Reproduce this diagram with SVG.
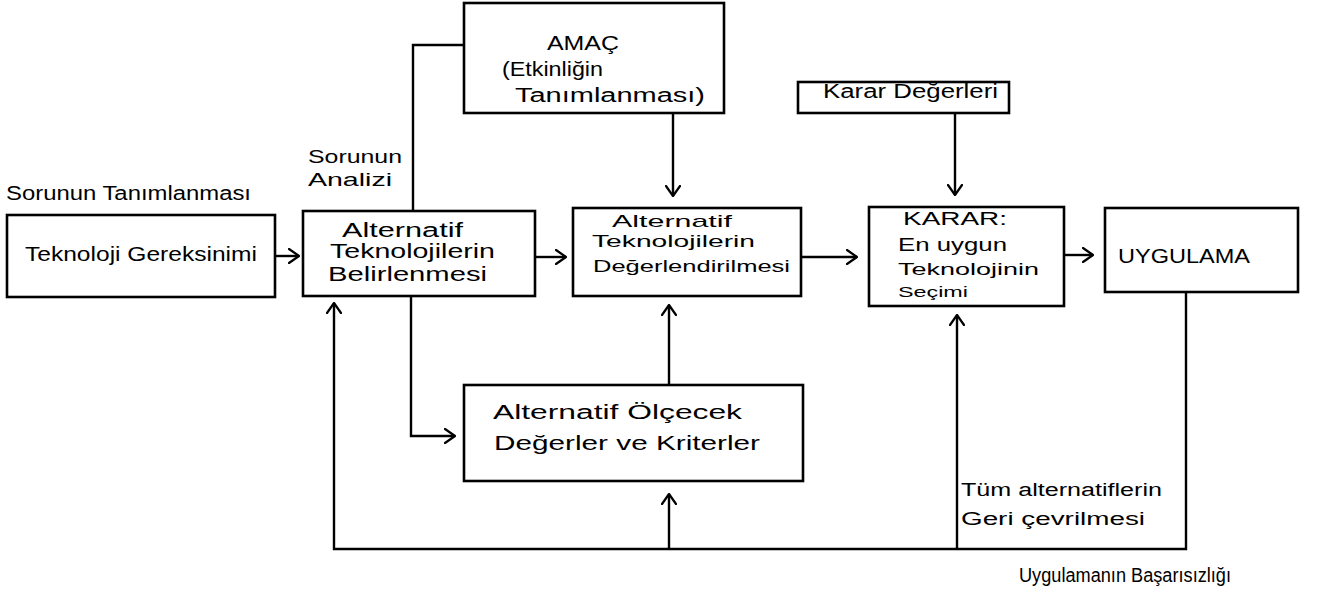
<svg xmlns="http://www.w3.org/2000/svg" width="1317" height="602" viewBox="0 0 1317 602">
<defs>
<marker id="arr" viewBox="0 0 12 16" refX="11" refY="8" markerWidth="12" markerHeight="16" markerUnits="userSpaceOnUse" orient="auto">
<path d="M1,1 L11,8 L1,15" fill="none" stroke="#000" stroke-width="2.2" stroke-linecap="round" stroke-linejoin="round"/>
</marker>
<style>
.box{fill:#fff;stroke:#000;stroke-width:2.6}
.ln{fill:none;stroke:#000;stroke-width:2.4;stroke-linejoin:miter}
.t{font-family:"Liberation Sans","DejaVu Sans",sans-serif;font-size:20px;fill:#000}
.s{font-size:17px}
.m{font-size:18px}
.xs{font-size:15px}
</style>
</defs>
<rect width="1317" height="602" fill="#fff"/>
<g id="connectors">
<path class="ln" d="M275,256 H299" marker-end="url(#arr)"/>
<path class="ln" d="M535,257 H566" marker-end="url(#arr)"/>
<path class="ln" d="M801,257 H857" marker-end="url(#arr)"/>
<path class="ln" d="M1064,255 H1093" marker-end="url(#arr)"/>
<path class="ln" d="M673,113 V196" marker-end="url(#arr)"/>
<path class="ln" d="M955,113 V195" marker-end="url(#arr)"/>
<path class="ln" d="M413,210 V45 H463"/>
<path class="ln" d="M411,295 V436 H455" marker-end="url(#arr)"/>
<path class="ln" d="M669,385 V305" marker-end="url(#arr)"/>
<path class="ln" d="M1186,292 V549 H334 V303" marker-end="url(#arr)"/>
<path class="ln" d="M669,549 V494" marker-end="url(#arr)"/>
<path class="ln" d="M957,549 V315" marker-end="url(#arr)"/>
</g>
<g id="label-sorunun-tanimlanmasi"><text class="t" x="6" y="200" textLength="245" lengthAdjust="spacingAndGlyphs">Sorunun Tanımlanması</text></g>
<g id="label-sorunun-analizi"><text class="t m" x="308" y="163" textLength="94" lengthAdjust="spacingAndGlyphs">Sorunun</text><text class="t m" x="308" y="186" textLength="84" lengthAdjust="spacingAndGlyphs">Analizi</text></g>
<g id="node-teknoloji-gereksinimi">
<rect class="box" x="7" y="215" width="268" height="82"/>
<text class="t" x="25" y="261" textLength="232" lengthAdjust="spacingAndGlyphs">Teknoloji Gereksinimi</text>
</g>
<g id="node-belirlenmesi">
<rect class="box" x="303" y="211" width="232" height="85"/>
<text class="t" x="342" y="237" textLength="121" lengthAdjust="spacingAndGlyphs">Alternatif</text>
<text class="t" x="330" y="258" textLength="165" lengthAdjust="spacingAndGlyphs">Teknolojilerin</text>
<text class="t" x="328" y="281" textLength="159" lengthAdjust="spacingAndGlyphs">Belirlenmesi</text>
</g>
<g id="node-amac">
<rect class="box" x="464" y="3" width="260" height="110"/>
<text class="t" x="547" y="50" textLength="72" lengthAdjust="spacingAndGlyphs">AMAÇ</text>
<text class="t" x="502" y="76" textLength="101" lengthAdjust="spacingAndGlyphs">(Etkinliğin</text>
<text class="t" x="515" y="102" textLength="190" lengthAdjust="spacingAndGlyphs">Tanımlanması)</text>
</g>
<g id="node-degerlendirilmesi">
<rect class="box" x="573" y="208" width="228" height="88"/>
<text class="t s" x="612" y="227" textLength="120" lengthAdjust="spacingAndGlyphs">Alternatif</text>
<text class="t s" x="592" y="247" textLength="163" lengthAdjust="spacingAndGlyphs">Teknolojilerin</text>
<text class="t s" x="593" y="272" textLength="197" lengthAdjust="spacingAndGlyphs">Değerlendirilmesi</text>
</g>
<g id="node-karar-degerleri">
<rect class="box" x="798" y="82" width="211" height="31"/>
<text class="t" x="823" y="98" textLength="175" lengthAdjust="spacingAndGlyphs">Karar Değerleri</text>
</g>
<g id="node-karar">
<rect class="box" x="869" y="207" width="195" height="99"/>
<text class="t m" x="903" y="225" textLength="104" lengthAdjust="spacingAndGlyphs">KARAR:</text>
<text class="t m" x="898" y="251" textLength="109" lengthAdjust="spacingAndGlyphs">En uygun</text>
<text class="t s" x="898" y="275" textLength="141" lengthAdjust="spacingAndGlyphs">Teknolojinin</text>
<text class="t xs" x="898" y="297" textLength="70" lengthAdjust="spacingAndGlyphs">Seçimi</text>
</g>
<g id="node-uygulama">
<rect class="box" x="1105" y="208" width="193" height="84"/>
<text class="t" x="1118" y="263" textLength="132" lengthAdjust="spacingAndGlyphs">UYGULAMA</text>
</g>
<g id="node-olcecek">
<rect class="box" x="464" y="385" width="339" height="96"/>
<text class="t" x="493" y="419" textLength="249" lengthAdjust="spacingAndGlyphs">Alternatif Ölçecek</text>
<text class="t" x="494" y="450" textLength="266" lengthAdjust="spacingAndGlyphs">Değerler ve Kriterler</text>
</g>
<g id="label-geri-cevrilmesi">
<text class="t m" x="961" y="496" textLength="201" lengthAdjust="spacingAndGlyphs">Tüm alternatiflerin</text>
<text class="t m" x="961" y="525" textLength="184" lengthAdjust="spacingAndGlyphs">Geri çevrilmesi</text>
</g>
<g id="label-basarisizligi">
<text class="t" x="1019" y="582" textLength="212" lengthAdjust="spacingAndGlyphs">Uygulamanın Başarısızlığı</text>
</g>
</svg>
